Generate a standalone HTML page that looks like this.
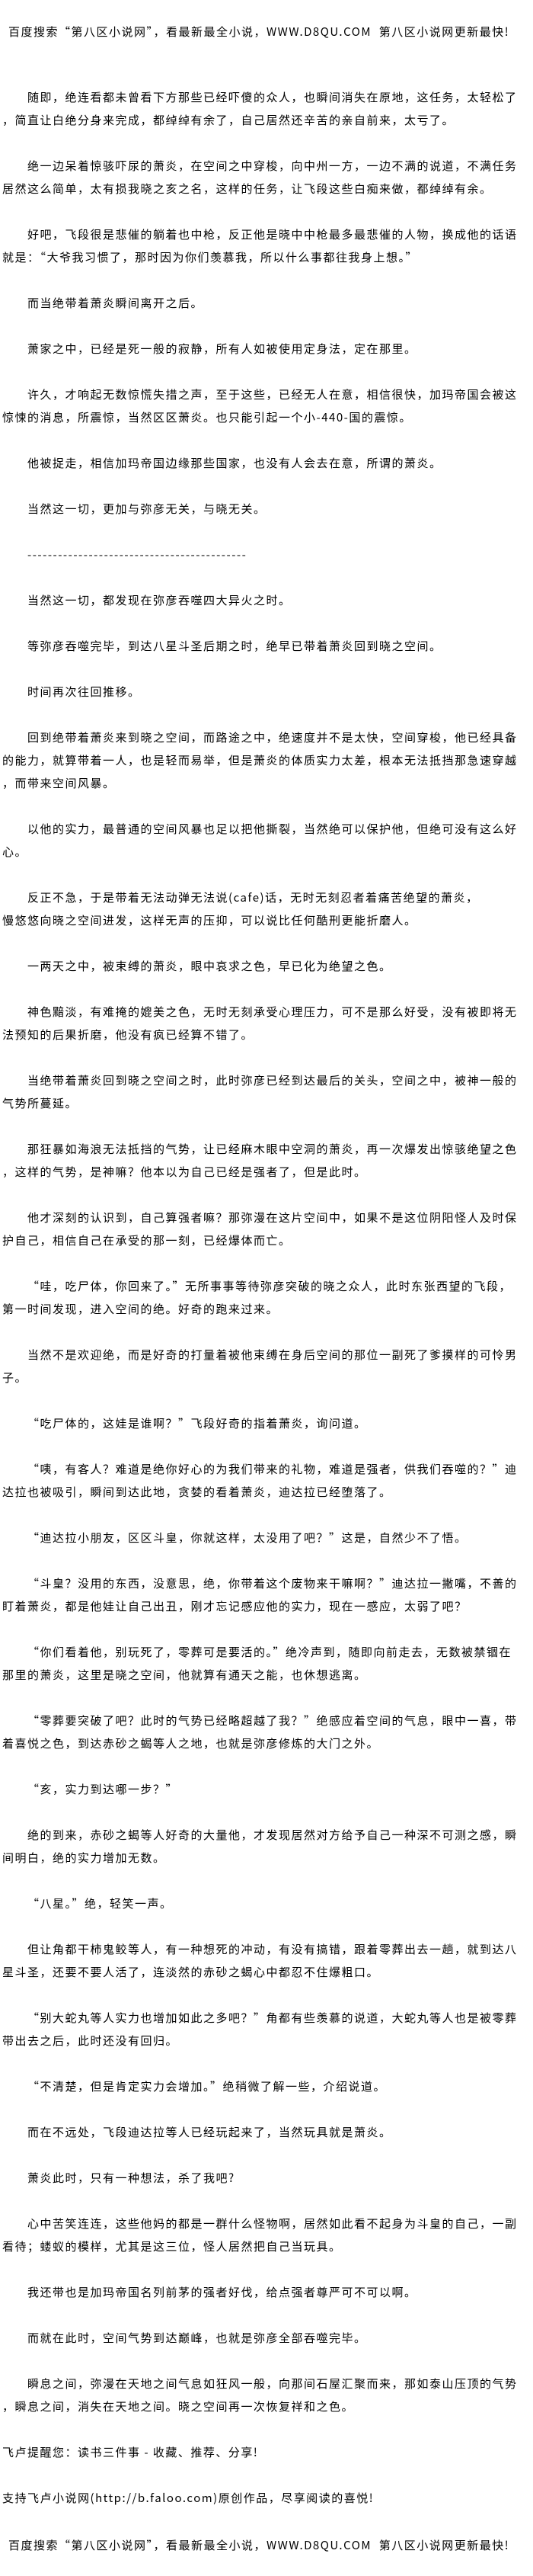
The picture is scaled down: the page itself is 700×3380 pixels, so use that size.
<!DOCTYPE html>
<html><head><meta charset="utf-8"><style>
html,body{margin:0;padding:0;background:#fff;}
body{width:700px;height:3380px;position:relative;overflow:hidden;font-family:"Noto Sans CJK SC","Liberation Sans",sans-serif;font-size:15px;letter-spacing:1.5px;color:#000;}
.abs{position:absolute;white-space:nowrap;line-height:30px;}
#c{position:absolute;top:113px;left:3px;width:697px;}
#c .p{margin:0 0 30px 0;}
#c .p div{white-space:nowrap;line-height:30px;height:30px;}
#c .p div:first-child{padding-left:33px;}
</style></head><body>
<div class="abs" style="top:27px;left:11px;">百度搜索“第八区小说网”，看最新最全小说，WWW.D8QU.COM&nbsp;&nbsp;第八区小说网更新最快!</div>
<div id="c">
<div class="p"><div>随即，绝连看都未曾看下方那些已经吓傻的众人，也瞬间消失在原地，这任务，太轻松了</div><div>，简直让白绝分身来完成，都绰绰有余了，自己居然还辛苦的亲自前来，太亏了。</div></div>
<div class="p"><div>绝一边呆着惊骇吓尿的萧炎，在空间之中穿梭，向中州一方，一边不满的说道，不满任务</div><div>居然这么简单，太有损我晓之亥之名，这样的任务，让飞段这些白痴来做，都绰绰有余。</div></div>
<div class="p"><div>好吧，飞段很是悲催的躺着也中枪，反正他是晓中中枪最多最悲催的人物，换成他的话语</div><div>就是：“大爷我习惯了，那时因为你们羡慕我，所以什么事都往我身上想。”</div></div>
<div class="p"><div>而当绝带着萧炎瞬间离开之后。</div></div>
<div class="p"><div>萧家之中，已经是死一般的寂静，所有人如被使用定身法，定在那里。</div></div>
<div class="p"><div>许久，才响起无数惊慌失措之声，至于这些，已经无人在意，相信很快，加玛帝国会被这</div><div>惊悚的消息，所震惊，当然区区萧炎。也只能引起一个小-440-国的震惊。</div></div>
<div class="p"><div>他被捉走，相信加玛帝国边缘那些国家，也没有人会去在意，所谓的萧炎。</div></div>
<div class="p"><div>当然这一切，更加与弥彦无关，与晓无关。</div></div>
<div class="p"><div>-------------------------------------------</div></div>
<div class="p"><div>当然这一切，都发现在弥彦吞噬四大异火之时。</div></div>
<div class="p"><div>等弥彦吞噬完毕，到达八星斗圣后期之时，绝早已带着萧炎回到晓之空间。</div></div>
<div class="p"><div>时间再次往回推移。</div></div>
<div class="p"><div>回到绝带着萧炎来到晓之空间，而路途之中，绝速度并不是太快，空间穿梭，他已经具备</div><div>的能力，就算带着一人，也是轻而易举，但是萧炎的体质实力太差，根本无法抵挡那急速穿越</div><div>，而带来空间风暴。</div></div>
<div class="p"><div>以他的实力，最普通的空间风暴也足以把他撕裂，当然绝可以保护他，但绝可没有这么好</div><div>心。</div></div>
<div class="p"><div>反正不急，于是带着无法动弹无法说(cafe)话，无时无刻忍者着痛苦绝望的萧炎，</div><div>慢悠悠向晓之空间进发，这样无声的压抑，可以说比任何酷刑更能折磨人。</div></div>
<div class="p"><div>一两天之中，被束缚的萧炎，眼中哀求之色，早已化为绝望之色。</div></div>
<div class="p"><div>神色黯淡，有难掩的媲美之色，无时无刻承受心理压力，可不是那么好受，没有被即将无</div><div>法预知的后果折磨，他没有疯已经算不错了。</div></div>
<div class="p"><div>当绝带着萧炎回到晓之空间之时，此时弥彦已经到达最后的关头，空间之中，被神一般的</div><div>气势所蔓延。</div></div>
<div class="p"><div>那狂暴如海浪无法抵挡的气势，让已经麻木眼中空洞的萧炎，再一次爆发出惊骇绝望之色</div><div>，这样的气势，是神嘛？他本以为自己已经是强者了，但是此时。</div></div>
<div class="p"><div>他才深刻的认识到，自己算强者嘛？那弥漫在这片空间中，如果不是这位阴阳怪人及时保</div><div>护自己，相信自己在承受的那一刻，已经爆体而亡。</div></div>
<div class="p"><div>“哇，吃尸体，你回来了。”无所事事等待弥彦突破的晓之众人，此时东张西望的飞段，</div><div>第一时间发现，进入空间的绝。好奇的跑来过来。</div></div>
<div class="p"><div>当然不是欢迎绝，而是好奇的打量着被他束缚在身后空间的那位一副死了爹摸样的可怜男</div><div>子。</div></div>
<div class="p"><div>“吃尸体的，这娃是谁啊？”飞段好奇的指着萧炎，询问道。</div></div>
<div class="p"><div>“咦，有客人？难道是绝你好心的为我们带来的礼物，难道是强者，供我们吞噬的？”迪</div><div>达拉也被吸引，瞬间到达此地，贪婪的看着萧炎，迪达拉已经堕落了。</div></div>
<div class="p"><div>“迪达拉小朋友，区区斗皇，你就这样，太没用了吧？”这是，自然少不了悟。</div></div>
<div class="p"><div>“斗皇？没用的东西，没意思，绝，你带着这个废物来干嘛啊？”迪达拉一撇嘴，不善的</div><div>盯着萧炎，都是他娃让自己出丑，刚才忘记感应他的实力，现在一感应，太弱了吧？</div></div>
<div class="p"><div>“你们看着他，别玩死了，零葬可是要活的。”绝冷声到，随即向前走去，无数被禁锢在</div><div>那里的萧炎，这里是晓之空间，他就算有通天之能，也休想逃离。</div></div>
<div class="p"><div>“零葬要突破了吧？此时的气势已经略超越了我？”绝感应着空间的气息，眼中一喜，带</div><div>着喜悦之色，到达赤砂之蝎等人之地，也就是弥彦修炼的大门之外。</div></div>
<div class="p"><div>“亥，实力到达哪一步？”</div></div>
<div class="p"><div>绝的到来，赤砂之蝎等人好奇的大量他，才发现居然对方给予自己一种深不可测之感，瞬</div><div>间明白，绝的实力增加无数。</div></div>
<div class="p"><div>“八星。”绝，轻笑一声。</div></div>
<div class="p"><div>但让角都干柿鬼鲛等人，有一种想死的冲动，有没有搞错，跟着零葬出去一趟，就到达八</div><div>星斗圣，还要不要人活了，连淡然的赤砂之蝎心中都忍不住爆粗口。</div></div>
<div class="p"><div>“别大蛇丸等人实力也增加如此之多吧？”角都有些羡慕的说道，大蛇丸等人也是被零葬</div><div>带出去之后，此时还没有回归。</div></div>
<div class="p"><div>“不清楚，但是肯定实力会增加。”绝稍微了解一些，介绍说道。</div></div>
<div class="p"><div>而在不远处，飞段迪达拉等人已经玩起来了，当然玩具就是萧炎。</div></div>
<div class="p"><div>萧炎此时，只有一种想法，杀了我吧?</div></div>
<div class="p"><div>心中苦笑连连，这些他妈的都是一群什么怪物啊，居然如此看不起身为斗皇的自己，一副</div><div>看待；蝼蚁的模样，尤其是这三位，怪人居然把自己当玩具。</div></div>
<div class="p"><div>我还带也是加玛帝国名列前茅的强者好伐，给点强者尊严可不可以啊。</div></div>
<div class="p"><div>而就在此时，空间气势到达巅峰，也就是弥彦全部吞噬完毕。</div></div>
<div class="p"><div>瞬息之间，弥漫在天地之间气息如狂风一般，向那间石屋汇聚而来，那如泰山压顶的气势</div><div>，瞬息之间，消失在天地之间。晓之空间再一次恢复祥和之色。</div></div>
</div>
<div class="abs" style="top:3203px;left:3px;">飞卢提醒您：读书三件事 - 收藏、推荐、分享!</div>
<div class="abs" style="top:3263px;left:3px;">支持飞卢小说网(http://b.faloo.com)原创作品，尽享阅读的喜悦!</div>
<div class="abs" style="top:3325px;left:11px;">百度搜索“第八区小说网”，看最新最全小说，WWW.D8QU.COM&nbsp;&nbsp;第八区小说网更新最快!</div>
</body></html>
